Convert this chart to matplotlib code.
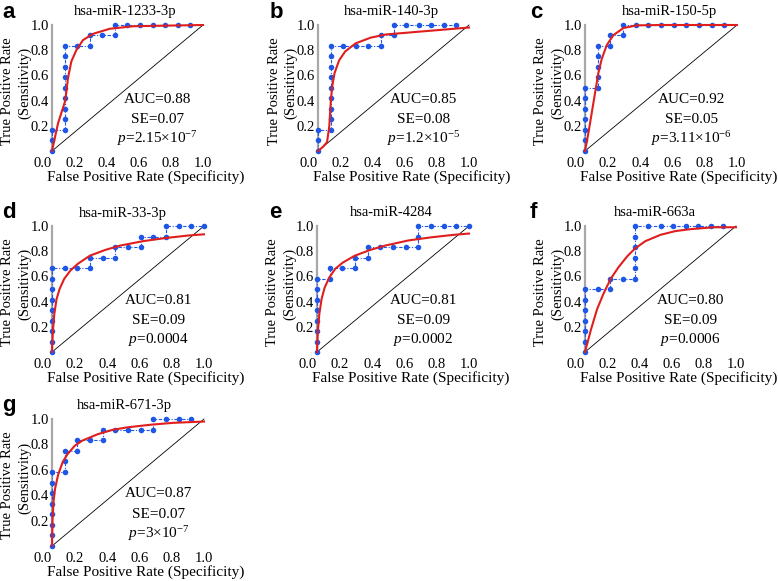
import numpy as np
import matplotlib
matplotlib.use("Agg")
import matplotlib.pyplot as plt

plt.rcParams["font.family"] = "Liberation Serif"
plt.rcParams["mathtext.fontset"] = "custom"
plt.rcParams["mathtext.rm"] = "Liberation Serif"
plt.rcParams["mathtext.it"] = "Liberation Serif:italic"

# ---- data ----
LETTERS = ["a", "b", "c", "d", "e", "f", "g"]
NAMES = ["hsa-miR-1233-3p", "hsa-miR-140-3p", "hsa-miR-150-5p", "hsa-miR-33-3p",
         "hsa-miR-4284", "hsa-miR-663a", "hsa-miR-671-3p"]
AUC = ["0.88", "0.85", "0.92", "0.81", "0.81", "0.80", "0.87"]
SE = ["0.07", "0.08", "0.05", "0.09", "0.09", "0.09", "0.07"]
P_TEXT = [r"2.15×10$^{-7}$", r"1.2×10$^{-5}$", r"3.11×10$^{-6}$", "0.0004",
          "0.0002", "0.0006", r"3×10$^{-7}$"]

N_NEG = 12
N_POS = 12

# empirical ROC steps (false positives / true positives counted out of 12)
STEP_FP = [
    [0, 0, 0, 1, 1, 1, 1, 1, 1, 1, 1, 1, 2, 3, 3, 4, 5, 5, 6, 7, 8, 9, 10, 11],
    [0, 0, 0, 1, 1, 1, 1, 1, 1, 1, 1, 1, 2, 3, 4, 5, 5, 6, 6, 7, 8, 9, 10, 11],
    [0, 0, 0, 0, 0, 0, 0, 1, 1, 1, 1, 1, 2, 2, 3, 3, 4, 5, 6, 7, 8, 9, 10, 11],
    [0, 0, 0, 0, 0, 0, 0, 0, 0, 1, 2, 3, 3, 4, 5, 5, 6, 7, 7, 8, 9, 9, 10, 11, 12],
    [0, 0, 0, 0, 0, 0, 0, 0, 1, 1, 2, 3, 3, 4, 4, 5, 6, 7, 8, 8, 8, 9, 10, 11, 12],
    [0, 0, 0, 0, 0, 0, 0, 1, 2, 2, 3, 4, 4, 4, 4, 4, 4, 5, 6, 7, 8, 9, 10, 11],
    [0, 0, 0, 0, 0, 0, 0, 0, 1, 1, 1, 2, 2, 3, 4, 4, 5, 6, 7, 8, 8, 9, 10, 11],
]
STEP_TP = [
    [0, 1, 2, 2, 3, 4, 5, 6, 7, 8, 9, 10, 10, 10, 11, 11, 11, 12, 12, 12, 12, 12, 12, 12],
    [0, 1, 2, 2, 3, 4, 5, 6, 7, 8, 9, 10, 10, 10, 10, 10, 11, 11, 12, 12, 12, 12, 12, 12],
    [0, 1, 2, 3, 4, 5, 6, 6, 7, 8, 9, 10, 10, 11, 11, 12, 12, 12, 12, 12, 12, 12, 12, 12],
    [0, 1, 2, 3, 4, 5, 6, 7, 8, 8, 8, 8, 9, 9, 9, 10, 10, 10, 11, 11, 11, 12, 12, 12, 12],
    [0, 1, 2, 3, 4, 5, 6, 7, 7, 8, 8, 8, 9, 9, 10, 10, 10, 10, 10, 11, 12, 12, 12, 12, 12],
    [0, 1, 2, 3, 4, 5, 6, 6, 6, 7, 7, 7, 8, 9, 10, 11, 12, 12, 12, 12, 12, 12, 12, 12],
    [0, 1, 2, 3, 4, 5, 6, 7, 7, 8, 9, 9, 10, 10, 10, 11, 11, 11, 11, 11, 12, 12, 12, 12],
]

# fitted (smoothed) ROC curves
FIT_FPR = [
    [0, 0.04, 0.088, 0.106, 0.128, 0.161, 0.205, 0.272, 0.382, 0.536, 0.757, 1.0],
    [0, 0.03, 0.06, 0.075, 0.085, 0.095, 0.11, 0.14, 0.18, 0.25, 0.35, 0.45, 0.6, 0.8, 1.0],
    [0, 0.022, 0.044, 0.066, 0.088, 0.11, 0.143, 0.187, 0.253, 0.341, 0.495, 1.0],
    [0, 0.005, 0.015, 0.03, 0.05, 0.08, 0.12, 0.17, 0.25, 0.35, 0.45, 0.6, 0.75, 0.9, 1.0],
    [0, 0.005, 0.015, 0.03, 0.05, 0.08, 0.12, 0.17, 0.25, 0.35, 0.45, 0.6, 0.75, 0.9, 1.0],
    [0, 0.02, 0.04, 0.08, 0.125, 0.17, 0.22, 0.28, 0.33, 0.4, 0.5, 0.6, 0.7, 0.85, 1.0],
    [0, 0.003, 0.01, 0.02, 0.04, 0.07, 0.1, 0.15, 0.2, 0.3, 0.4, 0.5, 0.65, 0.8, 1.0],
]
FIT_TPR = [
    [0, 0.22, 0.40, 0.58, 0.71, 0.80, 0.88, 0.93, 0.97, 0.99, 0.995, 1.0],
    [0, 0.03, 0.07, 0.2, 0.4, 0.52, 0.62, 0.72, 0.79, 0.855, 0.9, 0.925, 0.94, 0.96, 0.98],
    [0, 0.14, 0.30, 0.46, 0.62, 0.73, 0.84, 0.92, 0.976, 0.997, 1.0, 1.0],
    [0, 0.15, 0.3, 0.42, 0.5, 0.58, 0.645, 0.7, 0.765, 0.81, 0.845, 0.88, 0.905, 0.925, 0.934],
    [0, 0.15, 0.3, 0.42, 0.51, 0.59, 0.66, 0.71, 0.765, 0.81, 0.845, 0.885, 0.91, 0.93, 0.94],
    [0, 0.09, 0.18, 0.34, 0.47, 0.58, 0.67, 0.76, 0.82, 0.88, 0.93, 0.96, 0.975, 0.99, 0.99],
    [0, 0.2, 0.35, 0.45, 0.56, 0.66, 0.72, 0.79, 0.83, 0.88, 0.915, 0.935, 0.955, 0.97, 0.98],
]

# ---- layout (pixels): spine x, x at fpr=1, top y, bottom y ----
W, H = 778, 581
BOXES = [(52, 203, 25, 151), (318, 469, 25, 151), (585, 737, 25, 151),
         (52, 204, 226, 352), (317, 469, 226, 352), (585, 736, 226, 352),
         (52, 204, 419, 546)]
TITLE_DX = [73, 73, 85, 71, 74, 70, 72]
X_OFF = 0.06

fig = plt.figure(figsize=(W / 100, H / 100), dpi=100)


def fx(x):
    return x / W


def fy(y):
    return 1 - y / H


for i in range(len(NAMES)):
    x0, x1, yt, yb = BOXES[i]
    w = x1 - x0
    ax = fig.add_axes([fx(x0 - X_OFF * w), fy(yb), (1 + X_OFF) * w / W, (yb - yt) / H])
    ax.set_xlim(-X_OFF, 1.0)
    ax.set_ylim(0, 1)
    ax.patch.set_alpha(0)

    ax.plot([0, 1], [0, 1], color="black", lw=0.6, clip_on=False)
    fp = np.array(STEP_FP[i]) / N_NEG
    tp = np.array(STEP_TP[i]) / N_POS
    ax.plot(fp, tp, color="#1e56e6", lw=0.8, ls=(0, (3, 1.5, 1, 1.5)),
            marker="o", ms=4, mec="none", clip_on=False, zorder=3)
    ax.plot(FIT_FPR[i], FIT_TPR[i], color="#e01e1e", lw=1.5, clip_on=False, zorder=4)

    for s in ["top", "right", "bottom"]:
        ax.spines[s].set_visible(False)
    ax.spines["left"].set_position(("data", 0))
    ax.spines["left"].set_color("#a8a8a8")
    ax.spines["left"].set_linewidth(1.6)

    ax.set_xticks(np.linspace(-X_OFF, 1.0, 6))
    ax.set_xticklabels(["0.0", "0.2", "0.4", "0.6", "0.8", "1.0"])
    ax.set_yticks([0.2, 0.4, 0.6, 0.8, 1.0])
    ax.set_yticklabels(["0.2", "0.4", "0.6", "0.8", "1.0"])
    ax.tick_params(length=0, labelsize=10.5)
    ax.tick_params(axis="x", pad=4.5)
    ax.tick_params(axis="y", pad=2)

    ax.text(0.70, 0.41, "AUC=" + AUC[i], ha="center", va="center", fontsize=11)
    ax.text(0.70, 0.25, "SE=" + SE[i], ha="center", va="center", fontsize=11)
    ax.text(0.70, 0.10, r"$p$=" + P_TEXT[i], ha="center", va="center", fontsize=11)

    fig.text(fx(x0 + TITLE_DX[i]), fy(yt - 13), NAMES[i], ha="center", va="center",
             fontsize=10.5)
    fig.text(fx(x0 + 94), fy(yb + 26), "False Positive Rate (Specificity)",
             ha="center", va="center", fontsize=11)
    ymid = (yt + yb) / 2
    fig.text(fx(x0 - 44), fy(ymid + 3), "True Positive Rate", rotation=90,
             ha="center", va="center", fontsize=10.5)
    fig.text(fx(x0 - 27), fy(ymid - 5), "(Sensitivity)", rotation=90,
             ha="center", va="center", fontsize=10.5)
    lx = 2 if x0 < 100 else (x0 - 52 + 4 if x0 < 400 else x0 - 58 + 3)
    fig.text(fx(lx), fy(yt - 13), LETTERS[i], ha="left", va="center",
             fontsize=16, fontweight="bold", family="Liberation Sans")

fig.savefig("out.png", dpi=100, facecolor="white")
